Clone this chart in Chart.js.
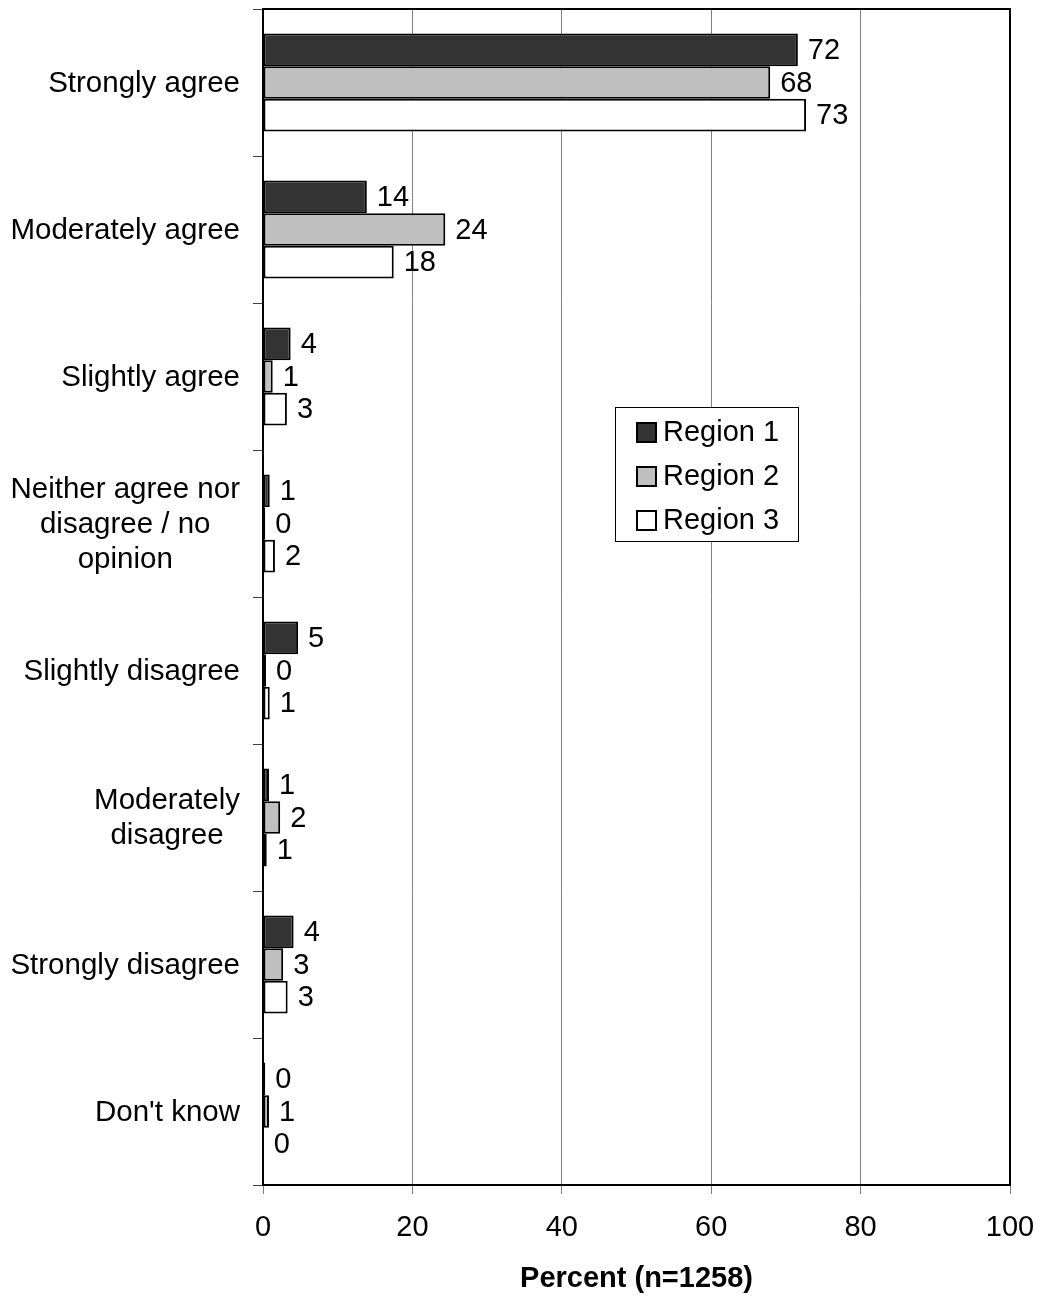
<!DOCTYPE html>
<html>
<head>
<meta charset="utf-8">
<script src="https://cdn.jsdelivr.net/npm/chart.js@4"></script>
<style>
html,body{margin:0;padding:0;background:#fff;}
#wrap{width:1040px;height:1296px;}
</style>
</head>
<body>
<div id="wrap"><canvas id="c" width="1040" height="1296"></canvas></div>
<script>
const categories = [
  ["Strongly agree"],
  ["Moderately agree"],
  ["Slightly agree"],
  ["Neither agree nor", "disagree / no", "opinion"],
  ["Slightly disagree"],
  ["Moderately", "disagree"],
  ["Strongly disagree"],
  ["Don't know"]
];
const seriesNames = ["Region 1", "Region 2", "Region 3"];
const region1 = [71.6, 13.9, 3.7, 0.9, 4.7, 0.8, 4.1, 0.3];
const region2 = [67.9, 24.4, 1.3, 0.3, 0.4, 2.3, 2.7, 0.8];
const region3 = [72.7, 17.5, 3.2, 1.6, 0.9, 0.5, 3.3, 0.1];
const region1Labels = [72, 14, 4, 1, 5, 1, 4, 0];
const region2Labels = [68, 24, 1, 0, 0, 2, 3, 1];
const region3Labels = [73, 18, 3, 2, 1, 1, 3, 0];
const xTicks = [0, 20, 40, 60, 80, 100];
const seriesColors = ["#333333", "#c0c0c0", "#ffffff"];

const FONT = "'Liberation Sans', Arial, sans-serif";
const FS = 29;

const labelSets = [region1Labels, region2Labels, region3Labels];

const customDraw = {
  id: 'customDraw',
  afterDatasetsDraw(chart) {
    const ctx = chart.ctx;
    ctx.save();
    ctx.font = FS + "px " + FONT;
    ctx.fillStyle = "#000";
    ctx.textAlign = "left";
    ctx.textBaseline = "middle";
    chart.data.datasets.forEach((ds, di) => {
      const meta = chart.getDatasetMeta(di);
      meta.data.forEach((bar, i) => {
        ctx.fillText(String(labelSets[di][i]), bar.x + 10, bar.y + 1);
      });
    });
    ctx.restore();
  },
  afterDraw(chart) {
    const ctx = chart.ctx;
    const area = chart.chartArea;
    const yScale = chart.scales.y;
    ctx.save();
    ctx.strokeStyle = "#000";
    ctx.lineWidth = 2;
    ctx.strokeRect(area.left, area.top, area.right - area.left, area.bottom - area.top);
    ctx.restore();
    ctx.save();
    ctx.font = "29.5px " + FONT;
    ctx.fillStyle = "#000";
    ctx.textAlign = "center";
    ctx.textBaseline = "middle";
    const lh = 35;
    categories.forEach((lines, i) => {
      const cy = yScale.getPixelForValue(i);
      let maxW = 0;
      lines.forEach(l => { maxW = Math.max(maxW, ctx.measureText(l).width); });
      const cx = 240 - maxW / 2;
      const y0 = cy - (lines.length - 1) * lh / 2;
      lines.forEach((l, k) => ctx.fillText(l, cx, y0 + k * lh + 1));
    });
    ctx.restore();
    const lx = 615, ly = 407, lw = 183, lhh = 134;
    ctx.save();
    ctx.fillStyle = "#fff";
    ctx.fillRect(lx, ly, lw, lhh);
    ctx.strokeStyle = "#000";
    ctx.lineWidth = 1;
    ctx.strokeRect(lx + 0.5, ly + 0.5, lw, lhh);
    ctx.font = FS + "px " + FONT;
    ctx.textAlign = "left";
    ctx.textBaseline = "middle";
    chart.data.datasets.forEach((ds, di) => {
      const cy = 432 + di * 44;
      ctx.fillStyle = ds.backgroundColor;
      ctx.fillRect(637, cy - 9, 19, 19);
      ctx.strokeStyle = "#000";
      ctx.lineWidth = 2;
      ctx.strokeRect(637, cy - 9, 19, 19);
      ctx.fillStyle = "#000";
      ctx.fillText(ds.label, 663, cy + 1);
    });
    ctx.restore();
  }
};

new Chart(document.getElementById('c'), {
  type: 'bar',
  data: {
    labels: categories.map(l => l.join(' ')),
    datasets: [region1, region2, region3].map((d, i) => ({
      label: seriesNames[i],
      data: d,
      backgroundColor: seriesColors[i],
      borderColor: "#000",
      borderWidth: 2,
      borderSkipped: false,
      categoryPercentage: 0.667,
      barPercentage: 1.0
    }))
  },
  options: {
    indexAxis: 'y',
    responsive: false,
    animation: false,
    devicePixelRatio: 1,
    layout: { padding: { top: 9, right: 30, bottom: 0, left: 0 } },
    plugins: {
      legend: { display: false },
      tooltip: { enabled: false }
    },
    scales: {
      y: {
        type: 'category',
        position: 'left',
        offset: true,
        grid: {
          drawOnChartArea: false,
          drawTicks: true,
          tickLength: 10,
          color: "#404040",
          lineWidth: 1
        },
        border: { display: true, color: "#000", width: 2 },
        ticks: { display: false },
        afterFit(scale) { scale.width = 263; }
      },
      x: {
        type: 'linear',
        position: 'bottom',
        min: 0,
        max: 100,
        afterBuildTicks(scale) { scale.ticks = xTicks.map(v => ({ value: v })); },
        grid: {
          color: "#808080",
          lineWidth: 1,
          tickLength: 9,
          drawTicks: true
        },
        border: { display: true, color: "#000", width: 2 },
        ticks: {
          font: { family: FONT, size: FS },
          color: "#000",
          padding: 17,
          maxRotation: 0,
          callback: v => String(v)
        },
        title: {
          display: true,
          text: "Percent (n=1258)",
          font: { family: FONT, size: FS, weight: 'bold' },
          color: "#000",
          padding: { top: 4, bottom: 0 }
        },
        afterFit(scale) {
          scale.height = 111;
          scale.paddingRight = 0;
          scale.paddingLeft = 0;
        }
      }
    }
  },
  plugins: [customDraw]
});
</script>
</body>
</html>
